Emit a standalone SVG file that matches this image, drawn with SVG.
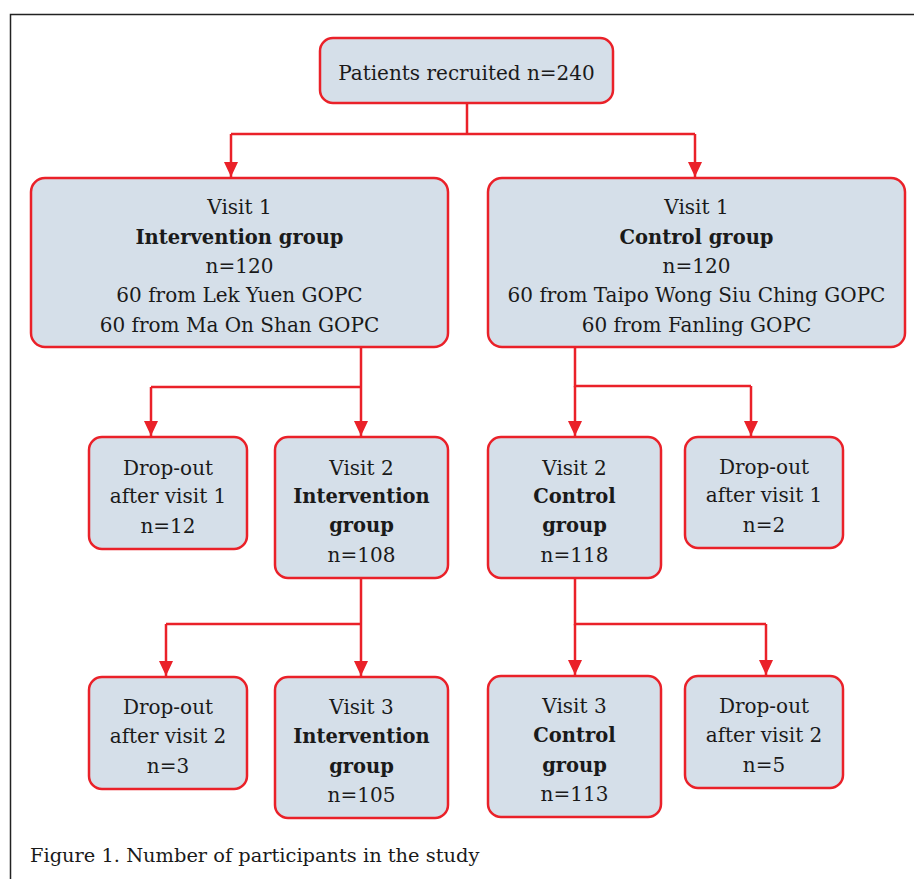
<svg xmlns="http://www.w3.org/2000/svg" width="914" height="879" viewBox="0 0 914 879">
<style>
.box{fill:#d5dfe9;stroke:#ea2129;stroke-width:2.5}
.t{font-family:"DejaVu Serif","Liberation Serif",serif;font-size:20px;fill:#1a1a1a;text-anchor:middle}
.b{font-weight:bold;font-size:19.5px}
.c{fill:none;stroke:#ea2129;stroke-width:2.5}
.cap{font-family:"DejaVu Serif","Liberation Serif",serif;font-size:19.4px;fill:#1a1a1a}
</style>
<defs>
<marker id="ah" viewBox="0 0 15 14" refX="15" refY="7" markerWidth="15" markerHeight="14" markerUnits="userSpaceOnUse" orient="auto">
<path d="M0,0 L15,7 L0,14 Z" fill="#ea2129"/>
</marker>
</defs>
<rect width="914" height="879" fill="#ffffff"/>
<path d="M10.5,879 V14.5 H914" fill="none" stroke="#222" stroke-width="1.5"/>
<g id="connectors">
<path class="c" d="M467,103 V134 M231,134 H695"/>
<path class="c" d="M231,134 V177" marker-end="url(#ah)"/>
<path class="c" d="M695,134 V177" marker-end="url(#ah)"/>
<path class="c" d="M361,347 V387 M151,387 H361"/>
<path class="c" d="M151,387 V436" marker-end="url(#ah)"/>
<path class="c" d="M361,387 V436" marker-end="url(#ah)"/>
<path class="c" d="M575,347 V386 H751"/>
<path class="c" d="M575,386 V436" marker-end="url(#ah)"/>
<path class="c" d="M751,386 V436" marker-end="url(#ah)"/>
<path class="c" d="M361,578 V624 M166,624 H361"/>
<path class="c" d="M166,624 V676" marker-end="url(#ah)"/>
<path class="c" d="M361,624 V676" marker-end="url(#ah)"/>
<path class="c" d="M575,578 V624 H766"/>
<path class="c" d="M575,624 V675" marker-end="url(#ah)"/>
<path class="c" d="M766,624 V675" marker-end="url(#ah)"/>
</g>
<g id="recruited">
<rect class="box" x="320" y="38" width="293" height="65" rx="13"/>
<text class="t" x="466.5" y="80">Patients recruited n=240</text>
</g>
<g id="v1-intervention">
<rect class="box" x="31" y="178" width="417" height="169" rx="14"/>
<text class="t" x="239.5" y="214">Visit 1</text>
<text class="t b" x="239.5" y="244">Intervention group</text>
<text class="t" x="239.5" y="273">n=120</text>
<text class="t" x="239.5" y="302">60 from Lek Yuen GOPC</text>
<text class="t" x="239.5" y="332">60 from Ma On Shan GOPC</text>
</g>
<g id="v1-control">
<rect class="box" x="488" y="178" width="417" height="169" rx="14"/>
<text class="t" x="696.5" y="214">Visit 1</text>
<text class="t b" x="696.5" y="244">Control group</text>
<text class="t" x="696.5" y="273">n=120</text>
<text class="t" x="696.5" y="302">60 from Taipo Wong Siu Ching GOPC</text>
<text class="t" x="696.5" y="332">60 from Fanling GOPC</text>
</g>
<g id="dropout-v1-intervention">
<rect class="box" x="89" y="437" width="158" height="112" rx="13"/>
<text class="t" x="168" y="475">Drop-out</text>
<text class="t" x="168" y="503">after visit 1</text>
<text class="t" x="168" y="533">n=12</text>
</g>
<g id="v2-intervention">
<rect class="box" x="275" y="437" width="173" height="141" rx="13"/>
<text class="t" x="361.5" y="475">Visit 2</text>
<text class="t b" x="361.5" y="503">Intervention</text>
<text class="t b" x="361.5" y="532">group</text>
<text class="t" x="361.5" y="562">n=108</text>
</g>
<g id="v2-control">
<rect class="box" x="488" y="437" width="173" height="141" rx="13"/>
<text class="t" x="574.5" y="475">Visit 2</text>
<text class="t b" x="574.5" y="503">Control</text>
<text class="t b" x="574.5" y="532">group</text>
<text class="t" x="574.5" y="562">n=118</text>
</g>
<g id="dropout-v1-control">
<rect class="box" x="685" y="437" width="158" height="111" rx="13"/>
<text class="t" x="764" y="474">Drop-out</text>
<text class="t" x="764" y="502">after visit 1</text>
<text class="t" x="764" y="532">n=2</text>
</g>
<g id="dropout-v2-intervention">
<rect class="box" x="89" y="677" width="158" height="112" rx="13"/>
<text class="t" x="168" y="714">Drop-out</text>
<text class="t" x="168" y="743">after visit 2</text>
<text class="t" x="168" y="773">n=3</text>
</g>
<g id="v3-intervention">
<rect class="box" x="275" y="677" width="173" height="141" rx="13"/>
<text class="t" x="361.5" y="714">Visit 3</text>
<text class="t b" x="361.5" y="743">Intervention</text>
<text class="t b" x="361.5" y="773">group</text>
<text class="t" x="361.5" y="802">n=105</text>
</g>
<g id="v3-control">
<rect class="box" x="488" y="676" width="173" height="141" rx="13"/>
<text class="t" x="574.5" y="713">Visit 3</text>
<text class="t b" x="574.5" y="742">Control</text>
<text class="t b" x="574.5" y="772">group</text>
<text class="t" x="574.5" y="801">n=113</text>
</g>
<g id="dropout-v2-control">
<rect class="box" x="685" y="676" width="158" height="112" rx="13"/>
<text class="t" x="764" y="713">Drop-out</text>
<text class="t" x="764" y="742">after visit 2</text>
<text class="t" x="764" y="772">n=5</text>
</g>
<text class="cap" x="30" y="862">Figure 1. Number of participants in the study</text>
</svg>
